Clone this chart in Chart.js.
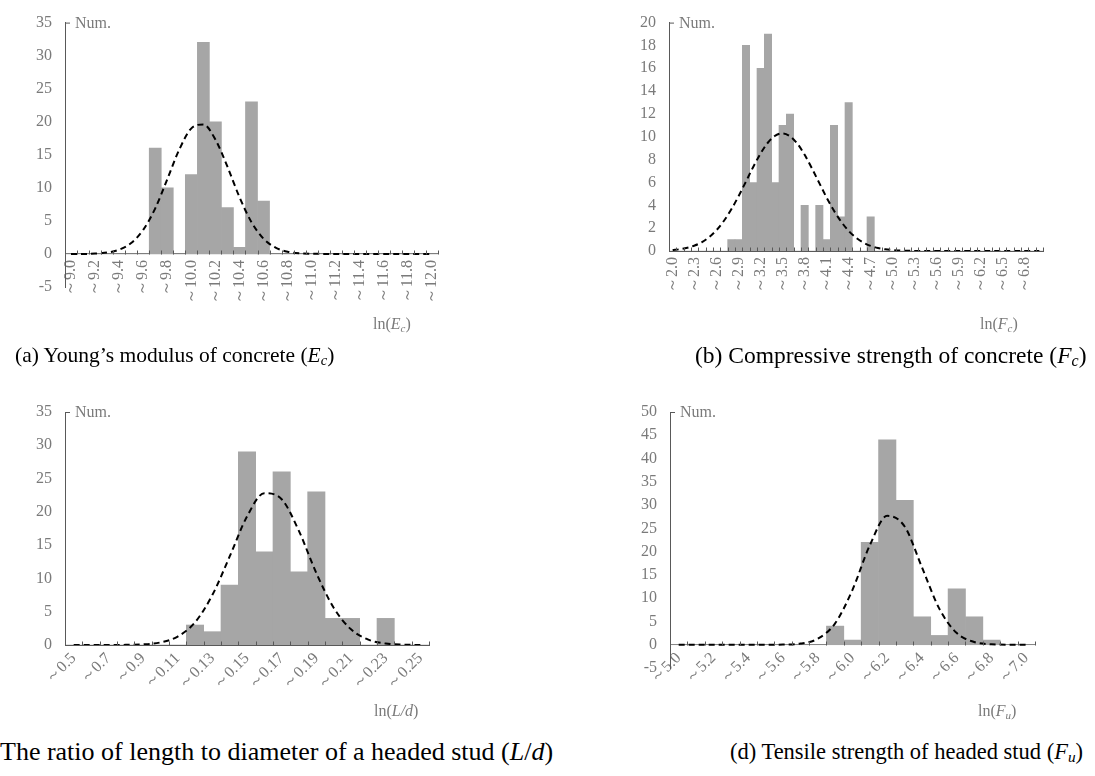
<!DOCTYPE html>
<html>
<head>
<meta charset="utf-8">
<script src="https://cdn.jsdelivr.net/npm/chart.js@4.4.1/dist/chart.umd.min.js"></script>
<style>
  body { margin: 0; width: 1095px; height: 776px; position: relative; background: #fff; overflow: hidden;
         font-family: 'Liberation Serif', 'Times New Roman', serif; }
  canvas { position: absolute; }
  .cap { position: absolute; line-height: 26px; white-space: nowrap; color: #000; }
  .cap sub { font-size: 68%; vertical-align: -0.2em; line-height: 0; }
</style>
</head>
<body>
<canvas id="chartA" width="540" height="345" style="left:0px;top:0px"></canvas>
<canvas id="chartB" width="495" height="345" style="left:600px;top:0px"></canvas>
<canvas id="chartC" width="540" height="345" style="left:0px;top:380px"></canvas>
<canvas id="chartD" width="495" height="345" style="left:600px;top:380px"></canvas>

<div class="cap" style="left:15px;top:342px;font-size:21.5px">(a) Young’s modulus of concrete (<i>E<sub>c</sub></i>)</div>
<div class="cap" style="left:695px;top:342px;font-size:23.5px">(b) Compressive strength of concrete (<i>F<sub>c</sub></i>)</div>
<div class="cap" style="left:0px;top:739px;font-size:26px">The ratio of length to diameter of a headed stud (<i>L</i>/<i>d</i>)</div>
<div class="cap" style="left:730px;top:739px;font-size:22.5px">(d) Tensile strength of headed stud (<i>F<sub>u</sub></i>)</div>

<script>
// (a) ln(Ec)
const binsA = ['9.0','9.1','9.2','9.3','9.4','9.5','9.6','9.7','9.8','9.9','10.0','10.1','10.2','10.3','10.4','10.5',
  '10.6','10.7','10.8','10.9','11.0','11.1','11.2','11.3','11.4','11.5','11.6','11.7','11.8','11.9','12.0'];
const countsA = [0,0,0,0,0,0,0,16,10,0,12,32,20,7,1,23,8,0,0,0,0,0,0,0,0,0,0,0,0,0,0];
const normalA = [0,0,0.06,0.21,0.64,1.65,3.65,6.9,11.3,15.8,19.0,19.6,17.3,13.2,8.6,4.8,2.3,0.95,0.34,0.1,0.03,0.01,
  0,0,0,0,0,0,0,0,0];

// (b) ln(Fc)
const binsB = ['2.0','2.1','2.2','2.3','2.4','2.5','2.6','2.7','2.8','2.9','3.0','3.1','3.2','3.3','3.4','3.5','3.6',
  '3.7','3.8','3.9','4.0','4.1','4.2','4.3','4.4','4.5','4.6','4.7','4.8','4.9','5.0','5.1','5.2','5.3','5.4','5.5',
  '5.6','5.7','5.8','5.9','6.0','6.1','6.2','6.3','6.4','6.5','6.6','6.7','6.8','6.9','7.0'];
const countsB = [0,0,0,0,0,0,0,0,1,1,18,6,16,19,6,11,12,0,4,0,4,1,11,3,13,0,0,3,
  0,0,0,0,0,0,0,0,0,0,0,0,0,0,0,0,0,0,0,0,0,0,0];
const normalB = [0.08,0.16,0.28,0.48,0.78,1.23,1.84,2.65,3.65,4.82,6.09,7.38,8.55,9.5,10.11,10.3,10.05,9.4,8.42,
  7.22,5.94,4.67,3.52,2.55,1.76,1.17,0.74,0.45,0.26,0.15,0.08,0.04,0.02,0.01,
  0,0,0,0,0,0,0,0,0,0,0,0,0,0,0,0,0];

// (c) ln(L/d)
const binsC = ['0.5','0.6','0.7','0.8','0.9','0.10','0.11','0.12','0.13','0.14','0.15','0.16','0.17','0.18','0.19',
  '0.20','0.21','0.22','0.23','0.24','0.25'];
const countsC = [0,0,0,0,0,0,0,3,2,9,29,14,26,11,23,4,4,0,4,0,0];
const normalC = [0,0,0,0.02,0.09,0.38,1.27,3.4,7.5,13.3,19.3,22.8,21.9,17.1,10.8,5.6,2.35,0.8,0.22,0.05,0.01];

// (d) ln(Fu)
const binsD = ['5.0','5.1','5.2','5.3','5.4','5.5','5.6','5.7','5.8','5.9','6.0','6.1','6.2','6.3','6.4','6.5','6.6',
  '6.7','6.8','6.9','7.0'];
const countsD = [0,0,0,0,0,0,0,0,0,4,1,22,44,31,6,2,12,6,1,0,0];
const normalD = [0,0,0,0,0,0,0.03,0.25,1.28,4.6,11.8,21.4,27.7,25.4,16.6,7.7,2.5,0.59,0.1,0.01,0];

const FONT = "'Liberation Serif', 'Times New Roman', serif";
const AXIS = '#595959';
const GREY = '#7a7a7a';
const BAR = '#a6a6a6';

function drawRich(ctx, x, y, parts) {
  for (const p of parts) {
    ctx.font = (p.it ? 'italic ' : '') + (p.sub ? 11 : 16) + 'px ' + FONT;
    ctx.fillText(p.t, x, y + (p.sub ? 3 : 0));
    x += ctx.measureText(p.t).width;
  }
}

function histogram(id, bins, counts, normal, opt) {
  const decor = {
    id: 'decor',
    afterDraw(chart) {
      const {ctx, chartArea: a, scales: {y}} = chart;
      const y0 = Math.round(y.getPixelForValue(0)) + 0.5;
      const w = (a.right - a.left) / bins.length;
      ctx.save();
      ctx.strokeStyle = AXIS;
      ctx.lineWidth = 1;
      ctx.beginPath();
      // bin separators on the x axis, pointing up
      for (let i = 0; i <= bins.length; i++) {
        const px = Math.round(a.left + i * w) + 0.5;
        ctx.moveTo(px, y0);
        ctx.lineTo(px, y0 - 4);
      }
      // little tick at the top of the y axis
      ctx.moveTo(a.left, a.top + 0.5);
      ctx.lineTo(a.left + 5, a.top + 0.5);
      ctx.stroke();
      ctx.fillStyle = GREY;
      ctx.font = '16px ' + FONT;
      ctx.textBaseline = 'alphabetic';
      ctx.fillText('Num.', a.left + 10, a.top + 5);
      drawRich(ctx, opt.titleX, opt.titleY, opt.title);
      ctx.restore();
    }
  };

  return new Chart(document.getElementById(id), {
    type: 'bar',
    data: {
      labels: bins,
      datasets: [
        {
          type: 'line',
          data: normal,
          order: 0,
          borderColor: '#000',
          borderWidth: 2,
          borderDash: [6, 4],
          pointRadius: 0,
          cubicInterpolationMode: 'monotone',
          fill: false
        },
        {
          data: counts,
          order: 1,
          backgroundColor: BAR,
          borderWidth: 0,
          barPercentage: 1,
          categoryPercentage: 1
        }
      ]
    },
    options: {
      responsive: false,
      animation: false,
      layout: {padding: opt.padding},
      plugins: {legend: {display: false}, tooltip: {enabled: false}},
      scales: {
        x: {
          position: {y: 0},
          grid: {display: false, drawTicks: false},
          border: {display: true, color: AXIS, width: 1},
          ticks: {
            autoSkip: false,
            minRotation: opt.rot,
            maxRotation: opt.rot,
            padding: opt.rot === 90 ? 6 : 4,
            color: GREY,
            font: {family: FONT, size: 16},
            callback: (v, i) => (i % opt.every ? '' : '～' + bins[i])
          }
        },
        y: {
          min: opt.min,
          max: opt.max,
          grid: {display: false, drawTicks: false},
          border: {display: true, color: AXIS, width: 1},
          afterFit: s => { s.width = opt.yWidth; },
          ticks: {
            stepSize: opt.step,
            padding: 13,
            color: GREY,
            font: {family: FONT, size: 16}
          }
        }
      }
    },
    plugins: [decor]
  });
}

histogram('chartA', binsA, countsA, normalA, {
  min: -5, max: 35, step: 5, rot: 90, every: 2, yWidth: 65,
  padding: {top: 17, right: 102, bottom: 58, left: 0},
  titleX: 373, titleY: 329,
  title: [{t: 'ln('}, {t: 'E', it: 1}, {t: 'c', it: 1, sub: 1}, {t: ')'}]
});

histogram('chartB', binsB, countsB, normalB, {
  min: 0, max: 20, step: 2, rot: 90, every: 3, yWidth: 69,
  padding: {top: 17, right: 52, bottom: 94, left: 0},
  titleX: 380, titleY: 329,
  title: [{t: 'ln('}, {t: 'F', it: 1}, {t: 'c', it: 1, sub: 1}, {t: ')'}]
});

histogram('chartC', binsC, countsC, normalC, {
  min: 0, max: 35, step: 5, rot: 45, every: 2, yWidth: 65,
  padding: {top: 32, right: 111, bottom: 80, left: 0},
  titleX: 374, titleY: 336,
  title: [{t: 'ln('}, {t: 'L/d', it: 1}, {t: ')'}]
});

histogram('chartD', binsD, countsD, normalD, {
  min: -5, max: 50, step: 5, rot: 45, every: 2, yWidth: 70,
  padding: {top: 32, right: 60, bottom: 57, left: 0},
  titleX: 378, titleY: 336,
  title: [{t: 'ln('}, {t: 'F', it: 1}, {t: 'u', it: 1, sub: 1}, {t: ')'}]
});
</script>
</body>
</html>
